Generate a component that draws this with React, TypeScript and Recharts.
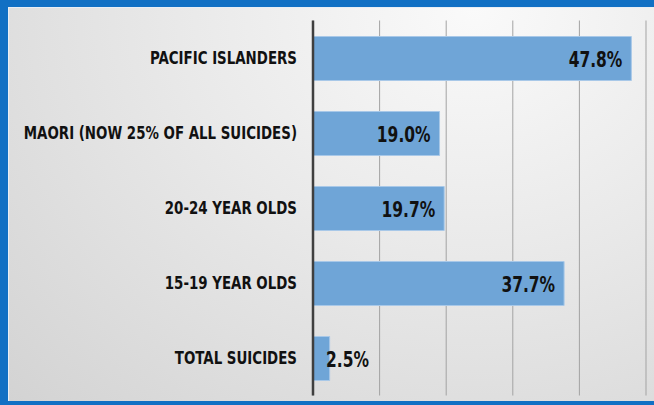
import React from 'react';
import { BarChart, Bar, XAxis, YAxis, CartesianGrid, LabelList } from 'recharts';

// categories top to bottom, share in percent
const categories = [
  'PACIFIC ISLANDERS',
  'MAORI (NOW 25% OF ALL SUICIDES)',
  '20-24 YEAR OLDS',
  '15-19 YEAR OLDS',
  'TOTAL SUICIDES',
];
const increases = [47.8, 19.0, 19.7, 37.7, 2.5];
const gridTicks = [0, 10, 20, 30, 40, 50];

const data = categories.map((name, i) => ({ name, value: increases[i] }));

const FONT = '"Liberation Sans Narrow", "DejaVu Sans Condensed", "Liberation Sans", sans-serif';

// condensed bold text, squeezed horizontally around its anchor point
const NarrowText = ({ x, y, anchor, size, squeeze, children }: any) => (
  <text
    transform={`translate(${x},${y}) scale(${squeeze},1)`}
    textAnchor={anchor}
    fontFamily={FONT}
    fontWeight="bold"
    fontSize={size}
    fill="#111"
  >
    {children}
  </text>
);

const CategoryTick = (props: any) => {
  const { x, y, payload } = props;
  return (
    <NarrowText x={x} y={y + 6} anchor="end" size={17.5} squeeze={0.85}>
      {payload.value}
    </NarrowText>
  );
};

// inside-end labels; short bars push the text just past the bar start
const ValueLabel = (props: any) => {
  const { x, y, width, height, value } = props;
  const text = `${Number(value).toFixed(1)}%`;
  const fits = width > 60;
  return (
    <NarrowText
      x={fits ? x + width - 9 : x + 13}
      y={y + height / 2 + 8}
      anchor={fits ? 'end' : 'start'}
      size={21}
      squeeze={0.82}
    >
      {text}
    </NarrowText>
  );
};

export default function App() {
  return (
    <div style={{ position: 'absolute', left: 0, top: 0, width: 654, height: 405, background: '#1170c4' }}>
      <div
        style={{
          position: 'absolute',
          left: 8,
          top: 7,
          width: 646,
          height: 394,
          boxSizing: 'border-box',
          borderTop: '1px solid #e8eef5',
          borderLeft: '1px solid #e8eef5',
          background: 'radial-gradient(ellipse farthest-corner at 72% 0%, #fafafa 0%, #e9e9e9 45%, #d3d3d3 100%)',
        }}
      />
      <div style={{ position: 'absolute', left: 0, top: 0 }}>
        <BarChart
          width={654}
          height={405}
          data={data}
          layout="vertical"
          barSize={44}
          margin={{ top: 20.5, right: 8, bottom: 9.5, left: 0 }}
        >
          <CartesianGrid horizontal={false} vertical stroke="#a3a3a3" strokeWidth={1} />
          <XAxis type="number" domain={[0, 50]} ticks={gridTicks} hide />
          <YAxis
            type="category"
            dataKey="name"
            width={313}
            axisLine={{ stroke: '#3f3f3f', strokeWidth: 2.5 }}
            tickLine={false}
            tickSize={0}
            tickMargin={16}
            tick={<CategoryTick />}
            interval={0}
          />
          <Bar dataKey="value" fill="#6fa5d7" stroke="#a8c8e8" strokeWidth={1} isAnimationActive={false}>
            <LabelList dataKey="value" content={<ValueLabel />} />
          </Bar>
        </BarChart>
      </div>
    </div>
  );
}
